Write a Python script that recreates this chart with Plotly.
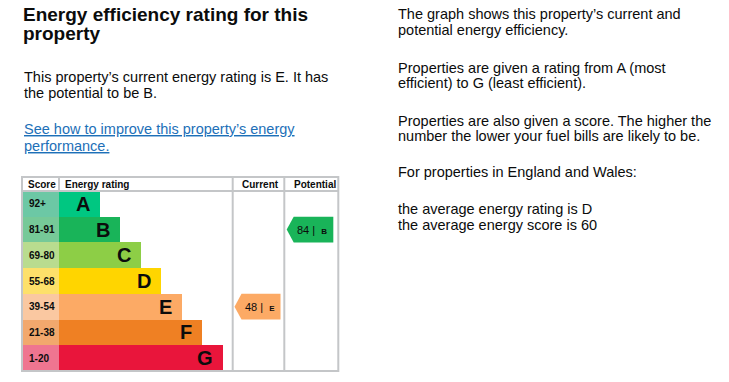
import plotly.graph_objects as go

# ---------------- data ----------------
bands = ["A", "B", "C", "D", "E", "F", "G"]
score_ranges = ["92+", "81-91", "69-80", "55-68", "39-54", "21-38", "1-20"]
band_lengths = [41, 61, 82, 102, 123, 143, 164]
band_colors = ["#00c781", "#19b459", "#8dce46", "#ffd500", "#fcaa65", "#ef8023", "#e9153b"]
score_colors = ["#6cc8a5", "#76c998", "#b9dc8f", "#fde06a", "#fac8a1", "#f2a86d", "#ef7590"]
headers = ["Score", "Energy rating", "Current", "Potential"]

current_score = 48
current_band = "E"
potential_score = 84
potential_band = "B"

title_lines = ["Energy efficiency rating for this", "property"]
summary_lines = ["This property\u2019s current energy rating is E. It has", "the potential to be B."]
link_lines = ["See how to improve this property\u2019s energy", "performance."]
info_paragraphs = [
    ["The graph shows this property\u2019s current and", "potential energy efficiency."],
    ["Properties are given a rating from A (most", "efficient) to G (least efficient)."],
    ["Properties are also given a score. The higher the", "number the lower your fuel bills are likely to be."],
    ["For properties in England and Wales:"],
    ["the average energy rating is D", "the average energy score is 60"],
]

# ---------------- layout constants ----------------
W, H = 729, 382
OFF = 8  # page body margin: screen px = figure px + OFF
FONT = "Liberation Sans, Arial, sans-serif"
TXT = "#0b0c0c"
GRID = "#c4c6c8"
tbl_left, tbl_right, tbl_top, hdr_bottom, tbl_bottom = 22, 338.3, 177, 191, 371
score_w = 37
col_cur, col_pot = 232.7, 284.3

fig = go.Figure()

rows = list(range(len(bands)))
fig.add_trace(go.Bar(orientation="h", y=rows, x=[score_w] * len(rows), base=0, width=1,
                     marker=dict(color=score_colors, line=dict(width=0)),
                     xaxis="x2", yaxis="y2", hoverinfo="skip", showlegend=False))
fig.add_trace(go.Bar(orientation="h", y=rows, x=band_lengths, base=score_w, width=1,
                     marker=dict(color=band_colors, line=dict(width=0)),
                     xaxis="x2", yaxis="y2", hoverinfo="skip", showlegend=False))

ann = []
for i, b in enumerate(bands):
    ann.append(dict(x=score_w + band_lengths[i] - 8, y=i, xref="x2", yref="y2", text="<b>%s</b>" % b,
                    showarrow=False, xanchor="right", yanchor="middle",
                    font=dict(family=FONT, size=20, color=TXT)))
    ann.append(dict(x=4.5, y=i, xref="x2", yref="y2", text="<b>%s</b>" % score_ranges[i],
                    showarrow=False, xanchor="left", yanchor="middle",
                    font=dict(family=FONT, size=10, color=TXT)))


def arrow(score, band, x0, x1):
    r = bands.index(band)
    ox = tbl_left
    tip, notch, end = x0 - ox, x0 - ox + 7, x1 - ox
    xs = [tip, notch, end, end, notch, tip]
    ys = [r, r - 0.5, r - 0.5, r + 0.5, r + 0.5, r]
    fig.add_trace(go.Scatter(x=xs, y=ys, fill="toself", mode="lines",
                             line=dict(width=0, color=band_colors[r]), fillcolor=band_colors[r],
                             xaxis="x2", yaxis="y2", hoverinfo="skip", showlegend=False))
    ann.append(dict(x=(notch + end) / 2 - 1.5, y=r, xref="x2", yref="y2",
                    text="%d |  <b><span style='font-size:8px'>%s</span></b>" % (score, band),
                    showarrow=False, xanchor="center", yanchor="middle",
                    font=dict(family=FONT, size=11, color=TXT)))


arrow(current_score, current_band, 234.5, 280.5)
arrow(potential_score, potential_band, 286.7, 333.3)

# headers
hdr_x = [26, 63, 240, 291.5]
for hx, ht in zip(hdr_x, headers):
    ann.append(dict(x=hx, y=184.5, xref="x", yref="y", text="<b>%s</b>" % ht, showarrow=False,
                    xanchor="left", yanchor="middle", font=dict(family=FONT, size=10, color=TXT)))

# table lines
shapes = [
    dict(type="rect", x0=tbl_left, x1=tbl_right, y0=tbl_top, y1=tbl_bottom, xref="x", yref="y",
         line=dict(color=GRID, width=2)),
    dict(type="line", x0=tbl_left, x1=tbl_right, y0=hdr_bottom, y1=hdr_bottom, xref="x", yref="y",
         line=dict(color=GRID, width=2)),
    dict(type="line", x0=tbl_left + score_w, x1=tbl_left + score_w, y0=tbl_top, y1=hdr_bottom,
         xref="x", yref="y", line=dict(color=GRID, width=2)),
    dict(type="line", x0=col_cur, x1=col_cur, y0=tbl_top, y1=tbl_bottom, xref="x", yref="y",
         line=dict(color=GRID, width=2)),
    dict(type="line", x0=col_pot, x1=col_pot, y0=tbl_top, y1=tbl_bottom, xref="x", yref="y",
         line=dict(color=GRID, width=2)),
]


def text_line(x, baseline, txt, size, bold=False, color=TXT):
    t = "<b>%s</b>" % txt if bold else txt
    ann.append(dict(x=x, y=baseline - 0.3465 * size, xref="x", yref="y", text=t, showarrow=False,
                    xanchor="left", yanchor="middle", font=dict(family=FONT, size=size, color=color)))


for bl, t in zip([21, 40.5], title_lines):
    text_line(21, bl, t, 19, bold=True)
for bl, t in zip([81.7, 97.7], summary_lines):
    text_line(21.5, bl, t, 14.5)
for bl, t in zip([134, 150.7], link_lines):
    text_line(21.5, bl, "<u>%s</u>" % t, 14.5, color="#1d70b8")

para_baselines = [[19, 35], [72.7, 88.3], [126, 141.5], [177.3], [214, 230]]
for lines, bls in zip(info_paragraphs, para_baselines):
    for bl, t in zip(bls, lines):
        text_line(396, bl, t, 14.5)


def px_x(sx):
    return (sx - OFF) / W


def px_y(sy):
    return (H + OFF - sy) / H


fig.update_layout(
    width=W, height=H, margin=dict(l=0, r=0, t=0, b=0),
    paper_bgcolor="white", plot_bgcolor="rgba(0,0,0,0)",
    barmode="overlay", bargap=0,
    xaxis=dict(range=[OFF, W + OFF], domain=[0, 1], visible=False, fixedrange=True),
    yaxis=dict(range=[H + OFF, OFF], domain=[0, 1], visible=False, fixedrange=True),
    xaxis2=dict(range=[0, tbl_right - tbl_left], domain=[px_x(tbl_left), px_x(tbl_right)],
                anchor="y2", visible=False, fixedrange=True),
    yaxis2=dict(range=[len(bands) - 0.5, -0.5], domain=[px_y(tbl_bottom), px_y(hdr_bottom)],
                anchor="x2", visible=False, fixedrange=True),
    annotations=ann, shapes=shapes, showlegend=False,
)

fig.write_html("out.html", config={"displayModeBar": False})
